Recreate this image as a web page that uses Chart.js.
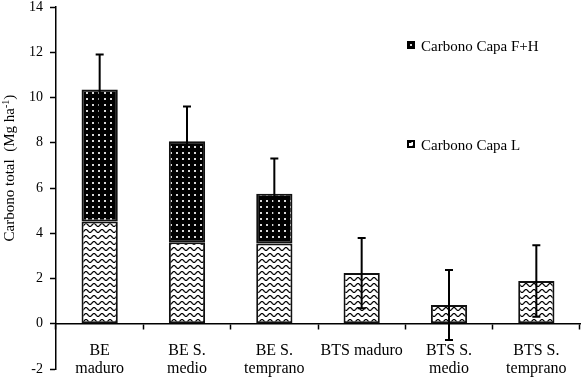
<!DOCTYPE html>
<html>
<head>
<meta charset="utf-8">
<script src="https://cdn.jsdelivr.net/npm/chart.js@4.4.1/dist/chart.umd.min.js"></script>
<style>
  html, body { margin: 0; padding: 0; background: #fff; }
  #wrap { width: 582px; height: 380px; }
</style>
</head>
<body>
<div id="wrap"><canvas id="chartCarbono" width="582" height="380"></canvas></div>
<script>
const categorias = [
  ["BE", "maduro"],
  ["BE S.", "medio"],
  ["BE S.", "temprano"],
  "BTS maduro",
  ["BTS S.", "medio"],
  ["BTS S.", "temprano"],
];
const capaL = [4.52, 3.6, 3.55, 2.24, 0.83, 1.89];
const capaFH = [5.83, 4.47, 2.2, null, null, null];
const errorTotal = [1.55, 1.53, 1.55, 1.55, 1.55, 1.58];
const yTicks = { min: -2, max: 14, step: 2 };
const leyenda = ["Carbono Capa F+H", "Carbono Capa L"];

const serif = '"Liberation Serif", "Times New Roman", serif';

function wavePattern() {
  const c = document.createElement("canvas");
  c.width = 8;
  c.height = 6;
  const g = c.getContext("2d");
  g.fillStyle = "#fff";
  g.fillRect(0, 0, 8, 6);
  g.strokeStyle = "#000";
  g.lineWidth = 1.2;
  g.beginPath();
  for (let x = -1; x <= 9; x += 0.5) {
    const y = 3 + 1.5 * Math.sin((x / 8) * 2 * Math.PI);
    if (x === -1) g.moveTo(x, y);
    else g.lineTo(x, y);
  }
  g.stroke();
  return g.createPattern(c, "repeat");
}

function dotPattern() {
  const c = document.createElement("canvas");
  c.width = 6;
  c.height = 6;
  const g = c.getContext("2d");
  g.fillStyle = "#000";
  g.fillRect(0, 0, 6, 6);
  g.fillStyle = "#d8d8d8";
  g.fillRect(2, 2, 2, 2);
  return g.createPattern(c, "repeat");
}

const patL = wavePattern();
const patFH = dotPattern();

// error bars drawn on top of each stacked total
const errorBars = {
  id: "errorBars",
  afterDatasetsDraw(chart) {
    const { ctx } = chart;
    const ys = chart.scales.y;
    const meta = chart.getDatasetMeta(0);
    ctx.save();
    ctx.strokeStyle = "#000";
    ctx.lineWidth = 2;
    meta.data.forEach((bar, i) => {
      const total = capaL[i] + (capaFH[i] || 0);
      const yTop = ys.getPixelForValue(total + errorTotal[i]);
      const yBot = ys.getPixelForValue(total - errorTotal[i]);
      const x = bar.x;
      ctx.beginPath();
      ctx.moveTo(x, yTop);
      ctx.lineTo(x, yBot);
      ctx.moveTo(x - 4, yTop);
      ctx.lineTo(x + 4, yTop);
      ctx.moveTo(x - 4, yBot);
      ctx.lineTo(x + 4, yBot);
      ctx.stroke();
    });
    ctx.restore();
  },
};

// legend and rotated axis title
const extras = {
  id: "extras",
  afterDraw(chart) {
    const { ctx, chartArea } = chart;
    ctx.save();
    ctx.font = "15px " + serif;
    ctx.fillStyle = "#000";
    ctx.textBaseline = "alphabetic";
    const items = [
      { pat: patFH, y: 41 },
      { pat: patL, y: 140 },
    ];
    items.forEach((it, i) => {
      ctx.fillStyle = "#000";
      ctx.fillRect(407, it.y, 8, 8);
      ctx.fillStyle = it.pat;
      ctx.fillRect(409, it.y + 2, 4, 4);
      ctx.fillStyle = "#000";
      ctx.fillText(leyenda[i], 421, it.y + 10);
    });

    // y title with superscript
    const cy = chartArea.top + (chartArea.bottom - chartArea.top) * 0.445;
    const bigFont = "15px " + serif;
    const supFont = "10px " + serif;
    const part1 = "Carbono total  (Mg ha";
    const sup = "-1";
    const part3 = ")";
    ctx.font = bigFont;
    const w1 = ctx.measureText(part1).width;
    const w3 = ctx.measureText(part3).width;
    ctx.font = supFont;
    const w2 = ctx.measureText(sup).width;
    const total = w1 + w2 + w3;
    ctx.translate(14, cy);
    ctx.rotate(-Math.PI / 2);
    const x0 = -total / 2;
    ctx.font = bigFont;
    ctx.fillText(part1, x0, 0);
    ctx.font = supFont;
    ctx.fillText(sup, x0 + w1, -5);
    ctx.font = bigFont;
    ctx.fillText(part3, x0 + w1 + w2, 0);
    ctx.restore();
  },
};

const ctx = document.getElementById("chartCarbono");
new Chart(ctx, {
  type: "bar",
  data: {
    labels: categorias,
    datasets: [
      {
        label: leyenda[1],
        data: capaL,
        backgroundColor: patL,
        borderColor: "#111",
        borderWidth: 2,
        borderSkipped: false,
        stack: "c",
      },
      {
        label: leyenda[0],
        data: capaFH,
        backgroundColor: patFH,
        borderColor: "#111",
        borderWidth: 2,
        borderSkipped: false,
        stack: "c",
      },
    ],
  },
  options: {
    responsive: false,
    animation: false,
    events: [],
    layout: { padding: { left: 0, top: 7, right: 2, bottom: 11 } },
    datasets: {
      bar: { barPercentage: 0.415, categoryPercentage: 1 },
    },
    plugins: {
      legend: { display: false },
      tooltip: { enabled: false },
    },
    scales: {
      x: {
        stacked: true,
        position: { y: 0 },
        afterFit: (s) => {
          s.height = 0;
        },
        border: { display: true, color: "#000", width: 1.5 },
        grid: {
          offset: true,
          drawOnChartArea: false,
          drawTicks: true,
          tickLength: 5,
          tickColor: "#000",
          tickWidth: 1.5,
        },
        ticks: {
          autoSkip: false,
          maxRotation: 0,
          padding: 13,
          color: "#000",
          font: { family: serif, size: 16, lineHeight: 1.125 },
        },
      },
      y: {
        stacked: true,
        min: yTicks.min,
        max: yTicks.max,
        afterFit: (s) => {
          s.width = 56;
          s.paddingTop = 0;
          s.paddingBottom = 0;
        },
        border: { display: true, color: "#000", width: 1.5 },
        grid: {
          drawOnChartArea: false,
          drawTicks: true,
          tickLength: 6,
          tickColor: "#000",
          tickWidth: 1.5,
        },
        ticks: {
          stepSize: yTicks.step,
          padding: 7,
          color: "#000",
          font: { family: serif, size: 14 },
        },
      },
    },
  },
  plugins: [errorBars, extras],
});
</script>
</body>
</html>
